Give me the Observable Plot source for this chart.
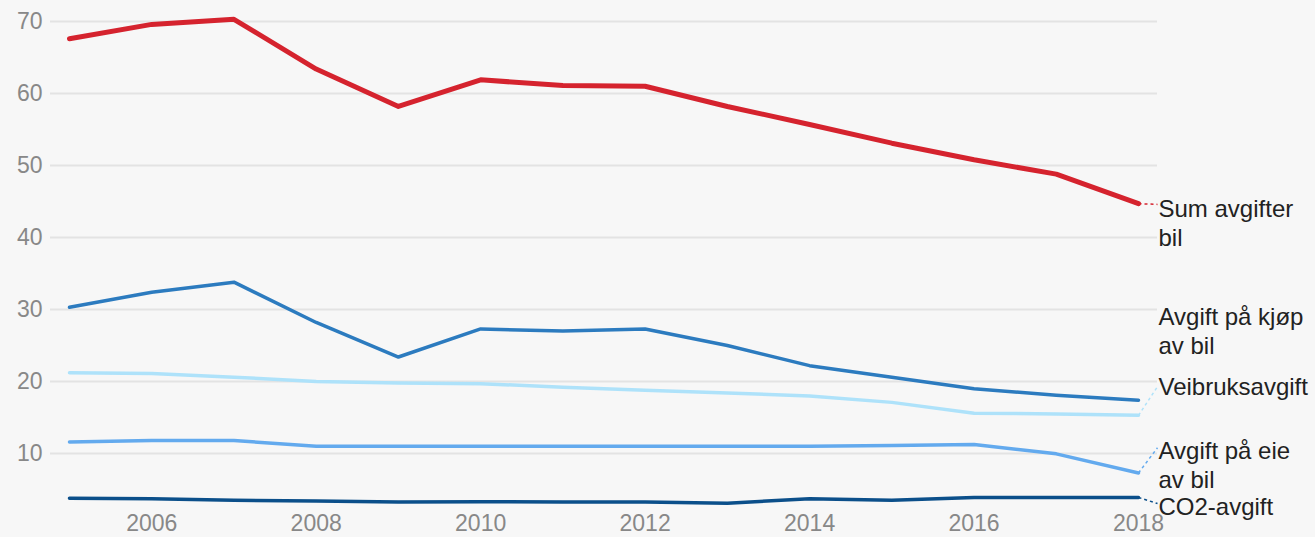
<!DOCTYPE html>
<html>
<head>
<meta charset="utf-8">
<script src="https://cdn.jsdelivr.net/npm/d3@7"></script>
<script src="https://cdn.jsdelivr.net/npm/@observablehq/plot@0.6"></script>
<style>
  html, body { margin: 0; padding: 0; background: #f7f7f7; }
  #chart svg { display: block; }
</style>
</head>
<body>
<div id="chart"></div>
<script>
// ---- data ----
const years = [2005, 2006, 2007, 2008, 2009, 2010, 2011, 2012, 2013, 2014, 2015, 2016, 2017, 2018];
const sumAvgifter = [67.6, 69.6, 70.3, 63.4, 58.2, 61.9, 61.1, 61.0, 58.2, 55.7, 53.1, 50.8, 48.8, 44.7];
const avgiftKjop = [30.3, 32.4, 33.8, 28.2, 23.4, 27.3, 27.0, 27.3, 25.0, 22.2, 20.6, 19.0, 18.1, 17.4];
const veibruks = [21.2, 21.1, 20.6, 20.0, 19.8, 19.7, 19.2, 18.8, 18.4, 18.0, 17.1, 15.6, 15.5, 15.3];
const avgiftEie = [11.6, 11.8, 11.8, 11.0, 11.0, 11.0, 11.0, 11.0, 11.0, 11.0, 11.1, 11.25, 9.95, 7.3];
const co2 = [3.8, 3.7, 3.5, 3.4, 3.25, 3.3, 3.25, 3.25, 3.1, 3.7, 3.5, 3.9, 3.9, 3.9];

const seriesNames = ["Avgift på kjøp av bil", "Veibruksavgift", "Avgift på eie av bil", "CO2-avgift", "Sum avgifter bil"];
const seriesValues = [avgiftKjop, veibruks, avgiftEie, co2, sumAvgifter];
const seriesColors = ["#2c7bbf", "#aee2fa", "#63aaee", "#0b4f8a", "#d5232e"];
const seriesWidths = [3.5, 3.5, 3.5, 3.5, 5];
// label text and the value level where each label's first line sits
const labelTexts = ["Avgift på kjøp\nav bil", "Veibruksavgift", "Avgift på eie\nav bil", "CO2-avgift", "Sum avgifter\nbil"];
const labelLevels = [29.0, 19.2, 10.4, 2.65, 44.0];
const connectorLevels = [null, 19.3, 10.8, 3.05, 44.6];

const yTicks = [10, 20, 30, 40, 50, 60, 70];
const xTicks = [2006, 2008, 2010, 2012, 2014, 2016, 2018];

// ---- build ----
const xDomain = [2004.769, 2018.231];
const lineMarks = seriesNames.map((name, i) =>
  Plot.lineY(years.map((y, j) => ({year: y, value: seriesValues[i][j]})), {
    x: "year", y: "value",
    stroke: seriesColors[i], strokeWidth: seriesWidths[i],
    strokeLinejoin: "round", strokeLinecap: "round"
  })
);
const last = years.length - 1;
const connectors = seriesNames.map((name, i) => ({
  name, color: seriesColors[i],
  x1: years[last], y1: seriesValues[i][last],
  x2: xDomain[1], y2: connectorLevels[i]
})).filter(d => d.y2 != null);
const labels = seriesNames.map((name, i) => ({text: labelTexts[i], level: labelLevels[i]}));

const chart = Plot.plot({
  width: 1315,
  height: 537,
  marginLeft: 50,
  marginRight: 158,
  marginTop: 6.6,
  marginBottom: 33.6,
  style: {background: "#f7f7f7", fontFamily: "'Liberation Sans', Arial, sans-serif", overflow: "visible"},
  x: {domain: xDomain},
  y: {domain: [3, 72]},
  marks: [
    Plot.gridY(yTicks, {stroke: "#e3e3e3", strokeOpacity: 1, strokeWidth: 2}),
    Plot.axisY(yTicks, {tickSize: 0, tickPadding: 8, fontSize: 23, color: "#888888", label: null}),
    Plot.axisX(xTicks, {tickSize: 0, tickPadding: 11, fontSize: 23, color: "#888888", label: null, tickFormat: d => String(d)}),
    ...lineMarks,
    Plot.link(connectors, {x1: "x1", y1: "y1", x2: "x2", y2: "y2", stroke: "color", strokeWidth: 1.5, strokeDasharray: "3,3", clip: false}),
    Plot.text(labels, {x: () => xDomain[1], y: "level", text: "text", textAnchor: "start", lineAnchor: "top", dx: 1, dy: -12.5, fontSize: 24, lineHeight: 1.21, fill: "#222", clip: false})
  ]
});
document.getElementById("chart").appendChild(chart);
</script>
</body>
</html>
